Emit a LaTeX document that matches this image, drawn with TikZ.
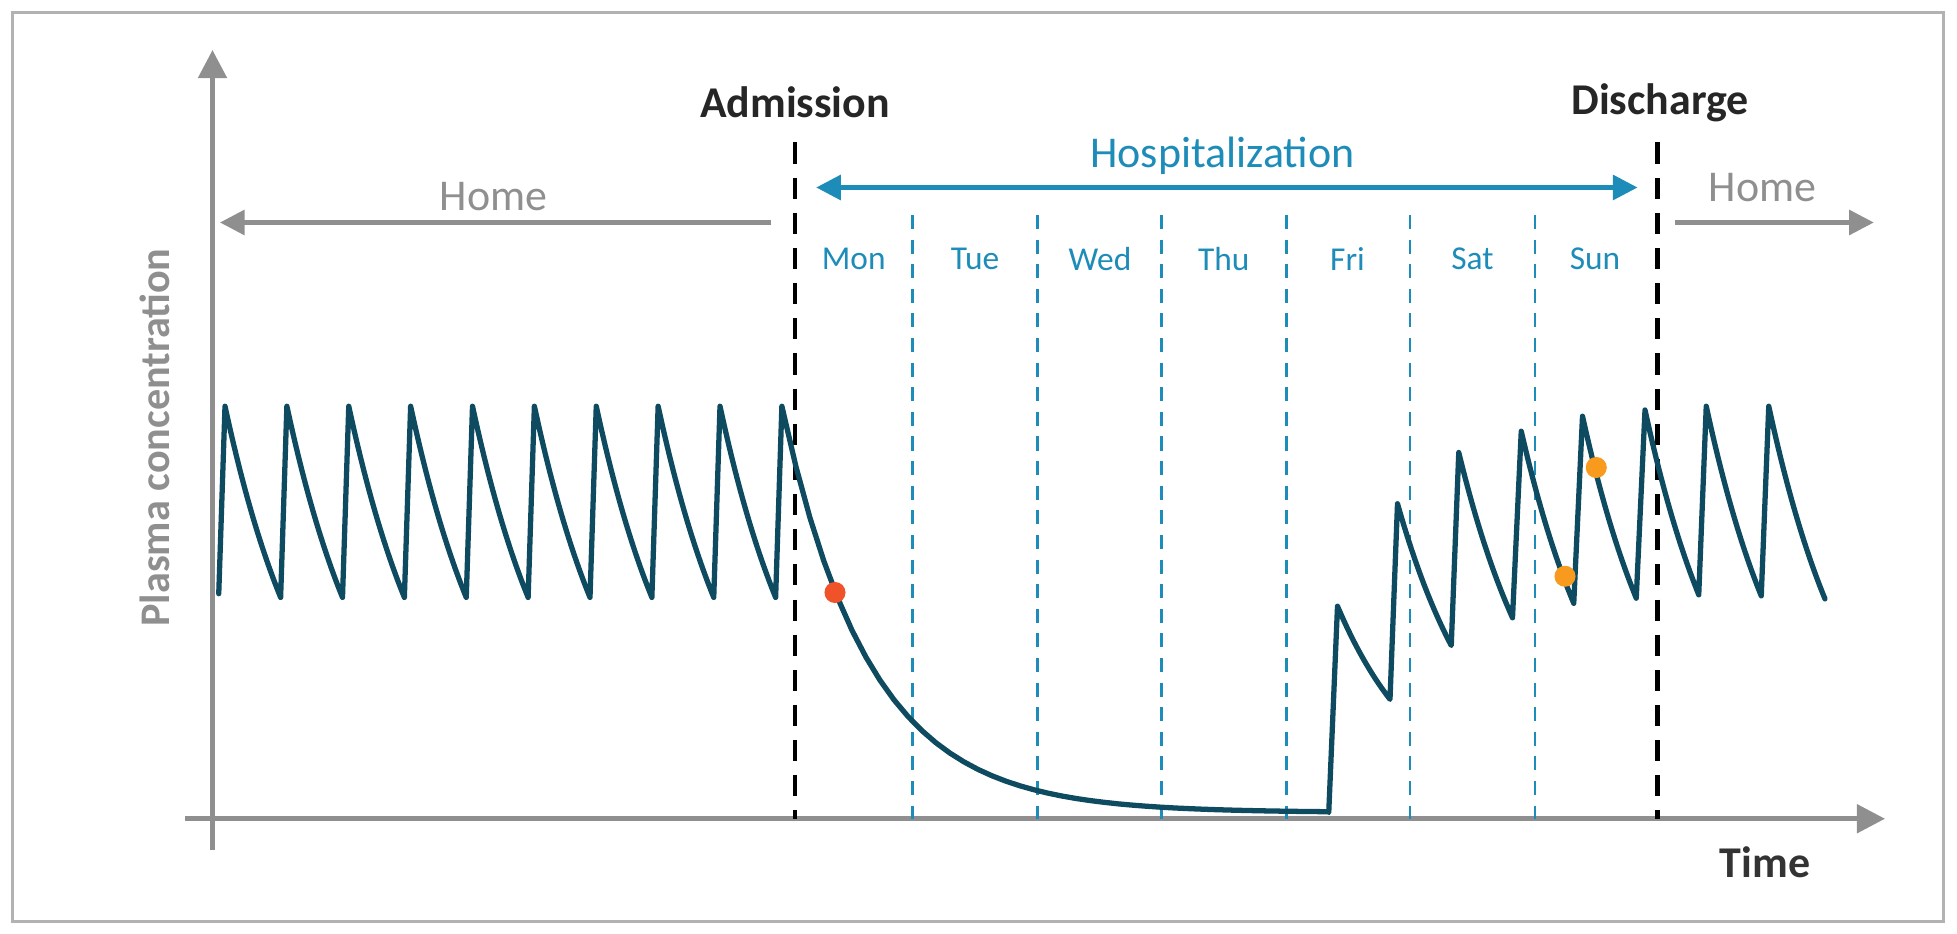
\documentclass[tikz,border=0pt]{standalone}
\usepackage{fontspec}
\setmainfont{Carlito}
\usetikzlibrary{arrows.meta}
\definecolor{curve}{HTML}{0E4A60}
\definecolor{hosp}{HTML}{1E8CB8}
\definecolor{axgray}{HTML}{8F8F8F}
\definecolor{redpt}{HTML}{F0532A}
\definecolor{orpt}{HTML}{F79A1E}
\tikzset{
  axis/.style={draw=axgray, line width=1.4pt, -{Triangle[length=8pt,width=8pt]}},
  homearrow/.style={draw=axgray, line width=1.2pt, -{Triangle[length=7pt,width=7pt]}},
  hosparrow/.style={draw=hosp, line width=1.2pt, {Triangle[length=7pt,width=7pt]}-{Triangle[length=7pt,width=7pt]}},
  eventline/.style={draw=black, line width=1.4pt, dash pattern=on 6pt off 4pt},
  dayline/.style={draw=hosp, line width=0.8pt, dash pattern=on 4pt off 3pt},
  daylabel/.style={text=hosp, font=\fontsize{9.5}{11}\selectfont},
  evlabel/.style={font=\fontsize{12.5}{14}\selectfont\bfseries},
  curveline/.style={draw=curve, line width=1.5pt, line join=round, line cap=round},
  dot/.style={circle, inner sep=0pt, minimum size=6pt}
}
\begin{document}
\begin{tikzpicture}[x=0.0125cm,y=-0.0125cm]
\useasboundingbox (0,0) rectangle (1565.6,747.2);
\draw[draw=black!30, line width=0.8pt] (10,10) rectangle (1555,737);
% axes
\coordinate (ya) at (170,680); \coordinate (yb) at (170,40);
\coordinate (xa) at (148,655); \coordinate (xb) at (1508,655);
\draw[axis] (ya) -- (yb);
\draw[axis] (xa) -- (xb);
\node[evlabel, text=axgray, rotate=90, font=\fontsize{12}{14}\selectfont\bfseries] (ylab) at (124,350) {Plasma concentration};
\node[evlabel, text=black!80] (tlab) at (1412,690) {Time};
% event lines
\coordinate (adt) at (636,114); \coordinate (adb) at (636,655);
\coordinate (dct) at (1326,114); \coordinate (dcb) at (1326,655);
\draw[eventline] (adt) -- (adb);
\draw[eventline] (dct) -- (dcb);
\node[evlabel, text=black!85] (adm) at (636,82) {Admission};
\node[evlabel, text=black!85] (dis) at (1328,82) {Discharge};
% day lines
\foreach \x [count=\i] in {730,830,929,1029,1128,1228} {
  \coordinate (dt\i) at (\x,172); \coordinate (db\i) at (\x,655);
  \draw[dayline] (dt\i) -- (db\i);
}
\foreach \x/\d [count=\i] in {683/Mon,780/Tue,880/Wed,979/Thu,1078/Fri,1178/Sat,1276/Sun}
  \node[daylabel] (day\i) at (\x,207) {\d};
% arrows
\coordinate (ha) at (653,150); \coordinate (hb) at (1310,150);
\draw[hosparrow] (ha) -- (hb);
\node[text=hosp, font=\fontsize{12.5}{14}\selectfont] (hosp) at (978,125) {Hospitalization};
\coordinate (lha) at (617,178); \coordinate (lhb) at (176,178);
\draw[homearrow] (lha) -- (lhb);
\node[text=axgray, font=\fontsize{12.5}{14}\selectfont] (home1) at (395,157) {Home};
\coordinate (rha) at (1340,178); \coordinate (rhb) at (1499,178);
\draw[homearrow] (rha) -- (rhb);
\node[text=axgray, font=\fontsize{12.5}{14}\selectfont] (home2) at (1410,150) {Home};
% curve
\coordinate (c0) at (175,475);
\draw[curveline] (c0)
  foreach \xp/\c/\d in {180/325/44.5,229.5/325/44.5,279/325/44.5,328.5/325/44.5,378/325/44.5,427.5/325/44.5,477/325/44.5,526.5/325/44.5,576/325/44.5,625.5/325/437}
  { -- (\xp,{650-\c}) -- plot[domain=0:\d, samples=40, variable=\t] ({\xp+\t},{650-\c*exp(-0.0143*\t)}) }
  -- (1063,650)
  foreach \xp/\c/\d in {1070/165/42,1118/247/43,1167/288/43,1217/305/42,1266/317/43,1316/322/43,1365/325/44,1415/325/45}
  { -- (\xp,{650-\c}) -- plot[domain=0:\d, samples=25, variable=\t] ({\xp+\t},{650-\c*exp(-0.0143*\t)}) };
\node[dot, fill=redpt] (p1) at (668,474) {};
\node[dot, fill=orpt] (p2) at (1252,461) {};
\node[dot, fill=orpt] (p3) at (1277,374) {};
\end{tikzpicture}
\end{document}
